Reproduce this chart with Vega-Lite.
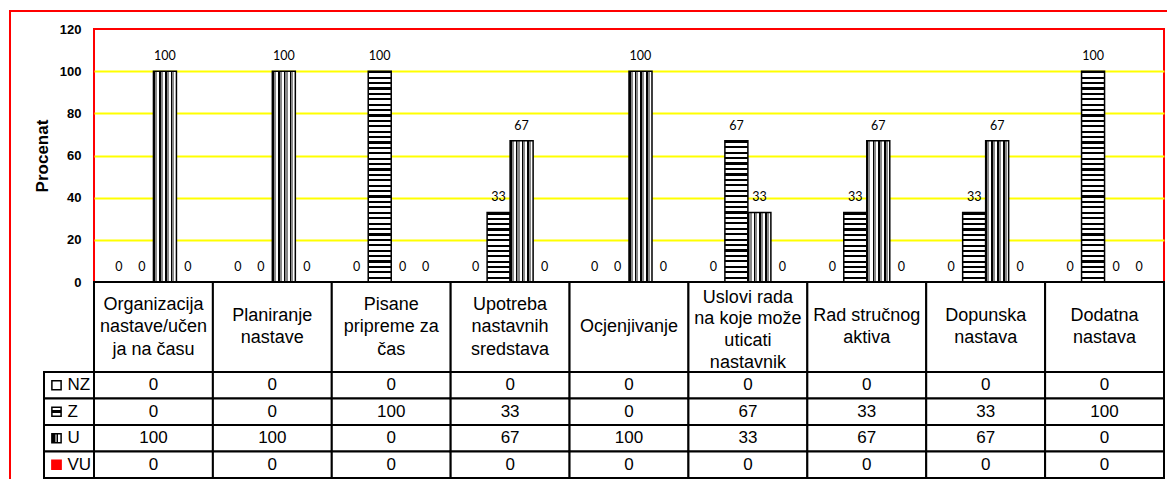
{
  "$schema": "https://vega.github.io/schema/vega-lite/v6.json",
  "autosize": {"type": "pad"},
  "padding": {"left": 8, "top": 9, "right": 0, "bottom": 0},
  "background": "white",
  "bounds": "flush",
  "spacing": 0,
  "config": {"view": {"stroke": null}},
  "datasets": {
    "table": [
      {"cat": "Organizacija nastave/učenja na času", "label": "Organizacija\nnastave/učen\nja na času", "NZ": 0, "Z": 0, "U": 100, "VU": 0},
      {"cat": "Planiranje nastave", "label": "Planiranje\nnastave", "NZ": 0, "Z": 0, "U": 100, "VU": 0},
      {"cat": "Pisane pripreme za čas", "label": "Pisane\npripreme za\nčas", "NZ": 0, "Z": 100, "U": 0, "VU": 0},
      {"cat": "Upotreba nastavnih sredstava", "label": "Upotreba\nnastavnih\nsredstava", "NZ": 0, "Z": 33, "U": 67, "VU": 0},
      {"cat": "Ocjenjivanje", "label": "Ocjenjivanje", "NZ": 0, "Z": 0, "U": 100, "VU": 0},
      {"cat": "Uslovi rada na koje može uticati nastavnik", "label": "Uslovi rada\nna koje može\nuticati\nnastavnik", "NZ": 0, "Z": 67, "U": 33, "VU": 0},
      {"cat": "Rad stručnog aktiva", "label": "Rad stručnog\naktiva", "NZ": 0, "Z": 33, "U": 67, "VU": 0},
      {"cat": "Dopunska nastava", "label": "Dopunska\nnastava", "NZ": 0, "Z": 33, "U": 67, "VU": 0},
      {"cat": "Dodatna nastava", "label": "Dodatna\nnastava", "NZ": 0, "Z": 100, "U": 0, "VU": 0}
    ],
    "legend": [{"series": "NZ"}, {"series": "Z"}, {"series": "U"}, {"series": "VU"}],
    "frame": [{"f": "frame"}]
  },
  "vconcat": [
    {
      "width": 1070,
      "height": 253,
      "view": {"stroke": "red", "strokeWidth": 2},
      "layer": [
        {
          "data": {"name": "table"},
          "transform": [{"fold": ["NZ", "Z", "U", "VU"], "as": ["series", "value"]}],
          "encoding": {
            "x": {"field": "cat", "type": "nominal", "scale": {"domain": ["Organizacija nastave/učenja na času", "Planiranje nastave", "Pisane pripreme za čas", "Upotreba nastavnih sredstava", "Ocjenjivanje", "Uslovi rada na koje može uticati nastavnik", "Rad stručnog aktiva", "Dopunska nastava", "Dodatna nastava"], "paddingInner": 0, "paddingOuter": 0}, "axis": null},
            "xOffset": {"field": "series", "type": "nominal", "scale": {"domain": ["NZ", "Z", "U", "VU"], "paddingInner": 0, "paddingOuter": 0.585}},
            "y": {
              "field": "value", "type": "quantitative",
              "scale": {"domain": [0, 120]},
              "axis": {
                "title": "Procenat", "values": [0, 20, 40, 60, 80, 100, 120],
                "grid": true, "gridWidth": 2,
                "gridColor": {"condition": {"test": "datum.value === 0 || datum.value === 120", "value": "transparent"}, "value": "#ffff00"},
                "domain": false, "ticks": false, "labelPadding": 13,
                "labelFont": "Liberation Sans", "labelFontSize": 13, "labelFontWeight": "bold", "labelColor": "black",
                "titleFont": "Liberation Sans", "titleFontSize": 17, "titleFontWeight": "bold", "titleColor": "black", "titlePadding": 8
              }
            }
          },
          "layer": [
            {
              "mark": {"type": "bar", "stroke": "black", "strokeWidth": 1.5},
              "encoding": {
                "fill": {
                  "condition": [
                    {"test": "datum.series === 'Z' && datum.value === 100", "value": {"gradient": "linear", "x1": 0, "y1": 0, "x2": 0, "y2": 1, "stops": [
                      {"offset": 0, "color": "#000"}, {"offset": 0.0103, "color": "#000"}, {"offset": 0.0103, "color": "#fff"}, {"offset": 0.0256, "color": "#fff"},
                      {"offset": 0.0256, "color": "#000"}, {"offset": 0.0359, "color": "#000"}, {"offset": 0.0359, "color": "#fff"}, {"offset": 0.0513, "color": "#fff"},
                      {"offset": 0.0513, "color": "#000"}, {"offset": 0.0615, "color": "#000"}, {"offset": 0.0615, "color": "#fff"}, {"offset": 0.0769, "color": "#fff"},
                      {"offset": 0.0769, "color": "#000"}, {"offset": 0.0872, "color": "#000"}, {"offset": 0.0872, "color": "#fff"}, {"offset": 0.1026, "color": "#fff"},
                      {"offset": 0.1026, "color": "#000"}, {"offset": 0.1128, "color": "#000"}, {"offset": 0.1128, "color": "#fff"}, {"offset": 0.1282, "color": "#fff"},
                      {"offset": 0.1282, "color": "#000"}, {"offset": 0.1385, "color": "#000"}, {"offset": 0.1385, "color": "#fff"}, {"offset": 0.1538, "color": "#fff"},
                      {"offset": 0.1538, "color": "#000"}, {"offset": 0.1641, "color": "#000"}, {"offset": 0.1641, "color": "#fff"}, {"offset": 0.1795, "color": "#fff"},
                      {"offset": 0.1795, "color": "#000"}, {"offset": 0.1897, "color": "#000"}, {"offset": 0.1897, "color": "#fff"}, {"offset": 0.2051, "color": "#fff"},
                      {"offset": 0.2051, "color": "#000"}, {"offset": 0.2154, "color": "#000"}, {"offset": 0.2154, "color": "#fff"}, {"offset": 0.2308, "color": "#fff"},
                      {"offset": 0.2308, "color": "#000"}, {"offset": 0.241, "color": "#000"}, {"offset": 0.241, "color": "#fff"}, {"offset": 0.2564, "color": "#fff"},
                      {"offset": 0.2564, "color": "#000"}, {"offset": 0.2667, "color": "#000"}, {"offset": 0.2667, "color": "#fff"}, {"offset": 0.2821, "color": "#fff"},
                      {"offset": 0.2821, "color": "#000"}, {"offset": 0.2923, "color": "#000"}, {"offset": 0.2923, "color": "#fff"}, {"offset": 0.3077, "color": "#fff"},
                      {"offset": 0.3077, "color": "#000"}, {"offset": 0.3179, "color": "#000"}, {"offset": 0.3179, "color": "#fff"}, {"offset": 0.3333, "color": "#fff"},
                      {"offset": 0.3333, "color": "#000"}, {"offset": 0.3436, "color": "#000"}, {"offset": 0.3436, "color": "#fff"}, {"offset": 0.359, "color": "#fff"},
                      {"offset": 0.359, "color": "#000"}, {"offset": 0.3692, "color": "#000"}, {"offset": 0.3692, "color": "#fff"}, {"offset": 0.3846, "color": "#fff"},
                      {"offset": 0.3846, "color": "#000"}, {"offset": 0.3949, "color": "#000"}, {"offset": 0.3949, "color": "#fff"}, {"offset": 0.4103, "color": "#fff"},
                      {"offset": 0.4103, "color": "#000"}, {"offset": 0.4205, "color": "#000"}, {"offset": 0.4205, "color": "#fff"}, {"offset": 0.4359, "color": "#fff"},
                      {"offset": 0.4359, "color": "#000"}, {"offset": 0.4462, "color": "#000"}, {"offset": 0.4462, "color": "#fff"}, {"offset": 0.4615, "color": "#fff"},
                      {"offset": 0.4615, "color": "#000"}, {"offset": 0.4718, "color": "#000"}, {"offset": 0.4718, "color": "#fff"}, {"offset": 0.4872, "color": "#fff"},
                      {"offset": 0.4872, "color": "#000"}, {"offset": 0.4974, "color": "#000"}, {"offset": 0.4974, "color": "#fff"}, {"offset": 0.5128, "color": "#fff"},
                      {"offset": 0.5128, "color": "#000"}, {"offset": 0.5231, "color": "#000"}, {"offset": 0.5231, "color": "#fff"}, {"offset": 0.5385, "color": "#fff"},
                      {"offset": 0.5385, "color": "#000"}, {"offset": 0.5487, "color": "#000"}, {"offset": 0.5487, "color": "#fff"}, {"offset": 0.5641, "color": "#fff"},
                      {"offset": 0.5641, "color": "#000"}, {"offset": 0.5744, "color": "#000"}, {"offset": 0.5744, "color": "#fff"}, {"offset": 0.5897, "color": "#fff"},
                      {"offset": 0.5897, "color": "#000"}, {"offset": 0.6, "color": "#000"}, {"offset": 0.6, "color": "#fff"}, {"offset": 0.6154, "color": "#fff"},
                      {"offset": 0.6154, "color": "#000"}, {"offset": 0.6256, "color": "#000"}, {"offset": 0.6256, "color": "#fff"}, {"offset": 0.641, "color": "#fff"},
                      {"offset": 0.641, "color": "#000"}, {"offset": 0.6513, "color": "#000"}, {"offset": 0.6513, "color": "#fff"}, {"offset": 0.6667, "color": "#fff"},
                      {"offset": 0.6667, "color": "#000"}, {"offset": 0.6769, "color": "#000"}, {"offset": 0.6769, "color": "#fff"}, {"offset": 0.6923, "color": "#fff"},
                      {"offset": 0.6923, "color": "#000"}, {"offset": 0.7026, "color": "#000"}, {"offset": 0.7026, "color": "#fff"}, {"offset": 0.7179, "color": "#fff"},
                      {"offset": 0.7179, "color": "#000"}, {"offset": 0.7282, "color": "#000"}, {"offset": 0.7282, "color": "#fff"}, {"offset": 0.7436, "color": "#fff"},
                      {"offset": 0.7436, "color": "#000"}, {"offset": 0.7538, "color": "#000"}, {"offset": 0.7538, "color": "#fff"}, {"offset": 0.7692, "color": "#fff"},
                      {"offset": 0.7692, "color": "#000"}, {"offset": 0.7795, "color": "#000"}, {"offset": 0.7795, "color": "#fff"}, {"offset": 0.7949, "color": "#fff"},
                      {"offset": 0.7949, "color": "#000"}, {"offset": 0.8051, "color": "#000"}, {"offset": 0.8051, "color": "#fff"}, {"offset": 0.8205, "color": "#fff"},
                      {"offset": 0.8205, "color": "#000"}, {"offset": 0.8308, "color": "#000"}, {"offset": 0.8308, "color": "#fff"}, {"offset": 0.8462, "color": "#fff"},
                      {"offset": 0.8462, "color": "#000"}, {"offset": 0.8564, "color": "#000"}, {"offset": 0.8564, "color": "#fff"}, {"offset": 0.8718, "color": "#fff"},
                      {"offset": 0.8718, "color": "#000"}, {"offset": 0.8821, "color": "#000"}, {"offset": 0.8821, "color": "#fff"}, {"offset": 0.8974, "color": "#fff"},
                      {"offset": 0.8974, "color": "#000"}, {"offset": 0.9077, "color": "#000"}, {"offset": 0.9077, "color": "#fff"}, {"offset": 0.9231, "color": "#fff"},
                      {"offset": 0.9231, "color": "#000"}, {"offset": 0.9333, "color": "#000"}, {"offset": 0.9333, "color": "#fff"}, {"offset": 0.9487, "color": "#fff"},
                      {"offset": 0.9487, "color": "#000"}, {"offset": 0.959, "color": "#000"}, {"offset": 0.959, "color": "#fff"}, {"offset": 0.9744, "color": "#fff"},
                      {"offset": 0.9744, "color": "#000"}, {"offset": 0.9846, "color": "#000"}, {"offset": 0.9846, "color": "#fff"}, {"offset": 1, "color": "#fff"}
                    ]}},
                    {"test": "datum.series === 'Z' && datum.value === 67", "value": {"gradient": "linear", "x1": 0, "y1": 0, "x2": 0, "y2": 1, "stops": [
                      {"offset": 0, "color": "#000"}, {"offset": 0.0154, "color": "#000"}, {"offset": 0.0154, "color": "#fff"}, {"offset": 0.0385, "color": "#fff"},
                      {"offset": 0.0385, "color": "#000"}, {"offset": 0.0538, "color": "#000"}, {"offset": 0.0538, "color": "#fff"}, {"offset": 0.0769, "color": "#fff"},
                      {"offset": 0.0769, "color": "#000"}, {"offset": 0.0923, "color": "#000"}, {"offset": 0.0923, "color": "#fff"}, {"offset": 0.1154, "color": "#fff"},
                      {"offset": 0.1154, "color": "#000"}, {"offset": 0.1308, "color": "#000"}, {"offset": 0.1308, "color": "#fff"}, {"offset": 0.1538, "color": "#fff"},
                      {"offset": 0.1538, "color": "#000"}, {"offset": 0.1692, "color": "#000"}, {"offset": 0.1692, "color": "#fff"}, {"offset": 0.1923, "color": "#fff"},
                      {"offset": 0.1923, "color": "#000"}, {"offset": 0.2077, "color": "#000"}, {"offset": 0.2077, "color": "#fff"}, {"offset": 0.2308, "color": "#fff"},
                      {"offset": 0.2308, "color": "#000"}, {"offset": 0.2462, "color": "#000"}, {"offset": 0.2462, "color": "#fff"}, {"offset": 0.2692, "color": "#fff"},
                      {"offset": 0.2692, "color": "#000"}, {"offset": 0.2846, "color": "#000"}, {"offset": 0.2846, "color": "#fff"}, {"offset": 0.3077, "color": "#fff"},
                      {"offset": 0.3077, "color": "#000"}, {"offset": 0.3231, "color": "#000"}, {"offset": 0.3231, "color": "#fff"}, {"offset": 0.3462, "color": "#fff"},
                      {"offset": 0.3462, "color": "#000"}, {"offset": 0.3615, "color": "#000"}, {"offset": 0.3615, "color": "#fff"}, {"offset": 0.3846, "color": "#fff"},
                      {"offset": 0.3846, "color": "#000"}, {"offset": 0.4, "color": "#000"}, {"offset": 0.4, "color": "#fff"}, {"offset": 0.4231, "color": "#fff"},
                      {"offset": 0.4231, "color": "#000"}, {"offset": 0.4385, "color": "#000"}, {"offset": 0.4385, "color": "#fff"}, {"offset": 0.4615, "color": "#fff"},
                      {"offset": 0.4615, "color": "#000"}, {"offset": 0.4769, "color": "#000"}, {"offset": 0.4769, "color": "#fff"}, {"offset": 0.5, "color": "#fff"},
                      {"offset": 0.5, "color": "#000"}, {"offset": 0.5154, "color": "#000"}, {"offset": 0.5154, "color": "#fff"}, {"offset": 0.5385, "color": "#fff"},
                      {"offset": 0.5385, "color": "#000"}, {"offset": 0.5538, "color": "#000"}, {"offset": 0.5538, "color": "#fff"}, {"offset": 0.5769, "color": "#fff"},
                      {"offset": 0.5769, "color": "#000"}, {"offset": 0.5923, "color": "#000"}, {"offset": 0.5923, "color": "#fff"}, {"offset": 0.6154, "color": "#fff"},
                      {"offset": 0.6154, "color": "#000"}, {"offset": 0.6308, "color": "#000"}, {"offset": 0.6308, "color": "#fff"}, {"offset": 0.6538, "color": "#fff"},
                      {"offset": 0.6538, "color": "#000"}, {"offset": 0.6692, "color": "#000"}, {"offset": 0.6692, "color": "#fff"}, {"offset": 0.6923, "color": "#fff"},
                      {"offset": 0.6923, "color": "#000"}, {"offset": 0.7077, "color": "#000"}, {"offset": 0.7077, "color": "#fff"}, {"offset": 0.7308, "color": "#fff"},
                      {"offset": 0.7308, "color": "#000"}, {"offset": 0.7462, "color": "#000"}, {"offset": 0.7462, "color": "#fff"}, {"offset": 0.7692, "color": "#fff"},
                      {"offset": 0.7692, "color": "#000"}, {"offset": 0.7846, "color": "#000"}, {"offset": 0.7846, "color": "#fff"}, {"offset": 0.8077, "color": "#fff"},
                      {"offset": 0.8077, "color": "#000"}, {"offset": 0.8231, "color": "#000"}, {"offset": 0.8231, "color": "#fff"}, {"offset": 0.8462, "color": "#fff"},
                      {"offset": 0.8462, "color": "#000"}, {"offset": 0.8615, "color": "#000"}, {"offset": 0.8615, "color": "#fff"}, {"offset": 0.8846, "color": "#fff"},
                      {"offset": 0.8846, "color": "#000"}, {"offset": 0.9, "color": "#000"}, {"offset": 0.9, "color": "#fff"}, {"offset": 0.9231, "color": "#fff"},
                      {"offset": 0.9231, "color": "#000"}, {"offset": 0.9385, "color": "#000"}, {"offset": 0.9385, "color": "#fff"}, {"offset": 0.9615, "color": "#fff"},
                      {"offset": 0.9615, "color": "#000"}, {"offset": 0.9769, "color": "#000"}, {"offset": 0.9769, "color": "#fff"}, {"offset": 1, "color": "#fff"}
                    ]}},
                    {"test": "datum.series === 'Z' && datum.value === 33", "value": {"gradient": "linear", "x1": 0, "y1": 0, "x2": 0, "y2": 1, "stops": [
                      {"offset": 0, "color": "#000"}, {"offset": 0.0308, "color": "#000"}, {"offset": 0.0308, "color": "#fff"}, {"offset": 0.0769, "color": "#fff"},
                      {"offset": 0.0769, "color": "#000"}, {"offset": 0.1077, "color": "#000"}, {"offset": 0.1077, "color": "#fff"}, {"offset": 0.1538, "color": "#fff"},
                      {"offset": 0.1538, "color": "#000"}, {"offset": 0.1846, "color": "#000"}, {"offset": 0.1846, "color": "#fff"}, {"offset": 0.2308, "color": "#fff"},
                      {"offset": 0.2308, "color": "#000"}, {"offset": 0.2615, "color": "#000"}, {"offset": 0.2615, "color": "#fff"}, {"offset": 0.3077, "color": "#fff"},
                      {"offset": 0.3077, "color": "#000"}, {"offset": 0.3385, "color": "#000"}, {"offset": 0.3385, "color": "#fff"}, {"offset": 0.3846, "color": "#fff"},
                      {"offset": 0.3846, "color": "#000"}, {"offset": 0.4154, "color": "#000"}, {"offset": 0.4154, "color": "#fff"}, {"offset": 0.4615, "color": "#fff"},
                      {"offset": 0.4615, "color": "#000"}, {"offset": 0.4923, "color": "#000"}, {"offset": 0.4923, "color": "#fff"}, {"offset": 0.5385, "color": "#fff"},
                      {"offset": 0.5385, "color": "#000"}, {"offset": 0.5692, "color": "#000"}, {"offset": 0.5692, "color": "#fff"}, {"offset": 0.6154, "color": "#fff"},
                      {"offset": 0.6154, "color": "#000"}, {"offset": 0.6462, "color": "#000"}, {"offset": 0.6462, "color": "#fff"}, {"offset": 0.6923, "color": "#fff"},
                      {"offset": 0.6923, "color": "#000"}, {"offset": 0.7231, "color": "#000"}, {"offset": 0.7231, "color": "#fff"}, {"offset": 0.7692, "color": "#fff"},
                      {"offset": 0.7692, "color": "#000"}, {"offset": 0.8, "color": "#000"}, {"offset": 0.8, "color": "#fff"}, {"offset": 0.8462, "color": "#fff"},
                      {"offset": 0.8462, "color": "#000"}, {"offset": 0.8769, "color": "#000"}, {"offset": 0.8769, "color": "#fff"}, {"offset": 0.9231, "color": "#fff"},
                      {"offset": 0.9231, "color": "#000"}, {"offset": 0.9538, "color": "#000"}, {"offset": 0.9538, "color": "#fff"}, {"offset": 1, "color": "#fff"}
                    ]}},
                    {"test": "datum.series === 'U'", "value": {"gradient": "linear", "x1": 0, "y1": 0, "x2": 1, "y2": 0, "stops": [
                      {"offset": 0, "color": "#000"}, {"offset": 0.07, "color": "#000"}, {"offset": 0.07, "color": "#888"}, {"offset": 0.16, "color": "#888"}, {"offset": 0.16, "color": "#fff"}, {"offset": 0.25, "color": "#fff"},
                      {"offset": 0.25, "color": "#000"}, {"offset": 0.32, "color": "#000"}, {"offset": 0.32, "color": "#888"}, {"offset": 0.41, "color": "#888"}, {"offset": 0.41, "color": "#fff"}, {"offset": 0.5, "color": "#fff"},
                      {"offset": 0.5, "color": "#000"}, {"offset": 0.57, "color": "#000"}, {"offset": 0.57, "color": "#888"}, {"offset": 0.66, "color": "#888"}, {"offset": 0.66, "color": "#fff"}, {"offset": 0.75, "color": "#fff"},
                      {"offset": 0.75, "color": "#000"}, {"offset": 0.82, "color": "#000"}, {"offset": 0.82, "color": "#888"}, {"offset": 0.91, "color": "#888"}, {"offset": 0.91, "color": "#fff"}, {"offset": 1, "color": "#fff"}
                    ]}},
                    {"test": "datum.series === 'VU'", "value": "red"}
                  ],
                  "value": "white"
                }
              }
            },
            {
              "mark": {"type": "text", "baseline": "bottom", "dy": -8, "font": "Lato", "fontSize": 12.5, "color": "black"},
              "encoding": {"text": {"field": "value", "type": "quantitative"}}
            }
          ]
        },
        {
          "data": {"name": "frame"},
          "mark": {"type": "rect", "fill": "transparent", "stroke": "red", "strokeWidth": 2},
          "encoding": {
            "x": {"field": "f", "type": "nominal", "scale": {"type": "band", "range": [-84, 1100], "paddingInner": 0, "paddingOuter": 0}, "axis": null},
            "y": {"field": "f", "type": "nominal", "scale": {"type": "band", "range": [-18, 470], "paddingInner": 0, "paddingOuter": 0}, "axis": null}
          }
        }
      ],
      "resolve": {"scale": {"x": "independent", "y": "independent"}}
    },
    {
      "width": 1070,
      "height": 90,
      "data": {"name": "table"},
      "encoding": {
        "x": {"field": "cat", "type": "nominal", "scale": {"domain": ["Organizacija nastave/učenja na času", "Planiranje nastave", "Pisane pripreme za čas", "Upotreba nastavnih sredstava", "Ocjenjivanje", "Uslovi rada na koje može uticati nastavnik", "Rad stručnog aktiva", "Dopunska nastava", "Dodatna nastava"], "paddingInner": 0, "paddingOuter": 0}, "axis": null}
      },
      "layer": [
        {"mark": {"type": "rect", "fill": "white", "stroke": "black", "strokeWidth": 2}},
        {"transform": [{"filter": "length(split(datum.label, '\\n')) === 1"}],
         "mark": {"type": "text", "font": "Liberation Sans", "fontSize": 18, "lineBreak": "\n", "lineHeight": 22, "baseline": "middle", "color": "black"},
         "encoding": {"text": {"field": "label", "type": "nominal"}}},
        {"transform": [{"filter": "length(split(datum.label, '\\n')) === 2"}],
         "mark": {"type": "text", "font": "Liberation Sans", "fontSize": 18, "lineBreak": "\n", "lineHeight": 22, "baseline": "middle", "dy": -11, "color": "black"},
         "encoding": {"text": {"field": "label", "type": "nominal"}}},
        {"transform": [{"filter": "length(split(datum.label, '\\n')) === 3"}],
         "mark": {"type": "text", "font": "Liberation Sans", "fontSize": 18, "lineBreak": "\n", "lineHeight": 22.5, "baseline": "middle", "dy": -22.5, "color": "black"},
         "encoding": {"text": {"field": "label", "type": "nominal"}}},
        {"transform": [{"filter": "length(split(datum.label, '\\n')) === 4"}],
         "mark": {"type": "text", "font": "Liberation Sans", "fontSize": 18, "lineBreak": "\n", "lineHeight": 21.7, "baseline": "middle", "dy": -29.5, "color": "black"},
         "encoding": {"text": {"field": "label", "type": "nominal"}}}
      ]
    },
    {
      "width": 1070,
      "height": 106,
      "layer": [
        {
          "data": {"name": "table"},
          "transform": [{"fold": ["NZ", "Z", "U", "VU"], "as": ["series", "value"]}],
          "encoding": {
            "x": {"field": "cat", "type": "nominal", "scale": {"domain": ["Organizacija nastave/učenja na času", "Planiranje nastave", "Pisane pripreme za čas", "Upotreba nastavnih sredstava", "Ocjenjivanje", "Uslovi rada na koje može uticati nastavnik", "Rad stručnog aktiva", "Dopunska nastava", "Dodatna nastava"], "paddingInner": 0, "paddingOuter": 0}, "axis": null},
            "y": {"field": "series", "type": "nominal", "scale": {"domain": ["NZ", "Z", "U", "VU"], "paddingInner": 0, "paddingOuter": 0}, "axis": null}
          },
          "layer": [
            {"mark": {"type": "rect", "fill": "white", "stroke": "black", "strokeWidth": 2}},
            {"mark": {"type": "text", "font": "Liberation Sans", "fontSize": 17, "color": "black"},
             "encoding": {"text": {"field": "value", "type": "quantitative"}}}
          ]
        },
        {
          "data": {"name": "legend"},
          "encoding": {
            "y": {"field": "series", "type": "nominal", "scale": {"domain": ["NZ", "Z", "U", "VU"], "paddingInner": 0, "paddingOuter": 0}, "axis": null}
          },
          "layer": [
            {"mark": {"type": "rect", "fill": "white", "stroke": "black", "strokeWidth": 2},
             "encoding": {"x": {"datum": "leg", "type": "nominal", "scale": {"type": "band", "range": [-50, 0], "paddingInner": 0, "paddingOuter": 0}, "axis": null}}},
            {"mark": {"type": "point", "shape": "square", "size": 85, "strokeWidth": 1.5, "filled": true, "opacity": 1},
             "encoding": {
               "x": {"datum": "leg", "type": "nominal", "bandPosition": 0.25, "scale": {"type": "band", "range": [-50, 0], "paddingInner": 0, "paddingOuter": 0}, "axis": null},
               "fill": {"condition": [
                 {"test": "datum.series === 'Z'", "value": {"gradient": "linear", "x1": 0, "y1": 0, "x2": 0, "y2": 1, "stops": [
                   {"offset": 0, "color": "#fff"}, {"offset": 0.35, "color": "#fff"}, {"offset": 0.35, "color": "#000"}, {"offset": 0.65, "color": "#000"}, {"offset": 0.65, "color": "#fff"}, {"offset": 1, "color": "#fff"}]}},
                 {"test": "datum.series === 'U'", "value": {"gradient": "linear", "x1": 0, "y1": 0, "x2": 1, "y2": 0, "stops": [
                   {"offset": 0, "color": "#000"}, {"offset": 0.3, "color": "#000"}, {"offset": 0.3, "color": "#888"}, {"offset": 0.5, "color": "#888"}, {"offset": 0.5, "color": "#000"}, {"offset": 0.7, "color": "#000"}, {"offset": 0.7, "color": "#fff"}, {"offset": 1, "color": "#fff"}]}},
                 {"test": "datum.series === 'VU'", "value": "red"}
               ], "value": "white"},
               "stroke": {"condition": {"test": "datum.series === 'VU'", "value": "red"}, "value": "black"}
             }},
            {"mark": {"type": "text", "align": "left", "baseline": "middle", "font": "Liberation Sans", "fontSize": 17, "color": "black"},
             "encoding": {
               "x": {"datum": "leg", "type": "nominal", "bandPosition": 0.47, "scale": {"type": "band", "range": [-50, 0], "paddingInner": 0, "paddingOuter": 0}, "axis": null},
               "text": {"field": "series", "type": "nominal"}
             }}
          ]
        }
      ],
      "resolve": {"scale": {"x": "independent"}}
    }
  ]
}
